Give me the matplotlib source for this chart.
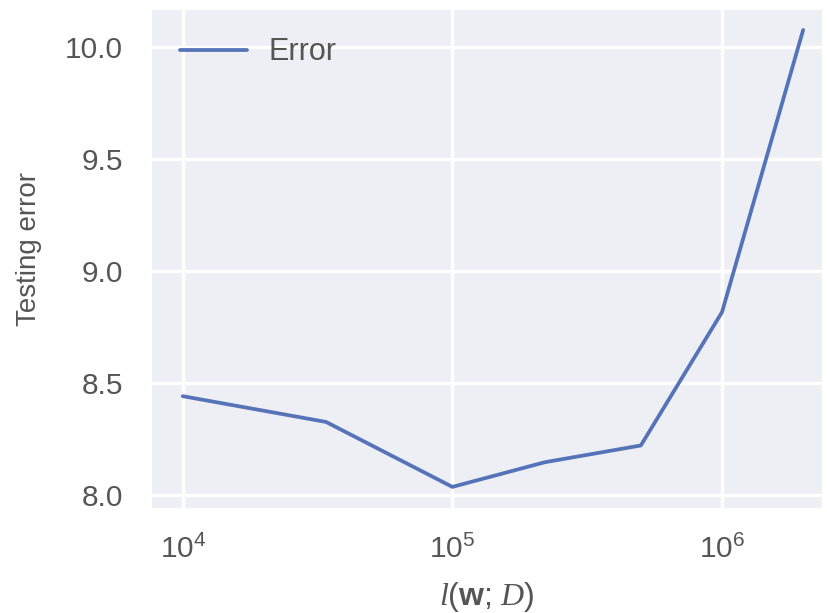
import matplotlib
matplotlib.use("Agg")
import matplotlib.pyplot as plt
import seaborn as sns

# data
info = [1e4, 3.4e4, 1e5, 2.2e5, 5e5, 1e6, 2e6]
test_err = [8.44, 8.325, 8.035, 8.145, 8.22, 8.815, 10.075]

sns.set_style("darkgrid", {"axes.facecolor": "#EEEEF5", "grid.color": "white"})
plt.rcParams['font.family'] = ['Liberation Sans', 'DejaVu Sans']
plt.rcParams['mathtext.fontset'] = 'custom'
plt.rcParams['mathtext.rm'] = 'Liberation Sans'
plt.rcParams['mathtext.it'] = 'Liberation Serif:italic'
plt.rcParams['mathtext.bf'] = 'Liberation Sans:bold'

fig = plt.figure(figsize=(8.27, 6.13), dpi=100)
ax = fig.add_axes([0.184, 0.171, 0.81, 0.813])

ax.plot(info, test_err, color='#5573B8', lw=2.7, label='Error')
ax.set_xscale('log')
ax.set_xlim(7.7e3, 2.35e6)
ax.set_ylim(7.94, 10.165)
ax.set_yticks([8.0, 8.5, 9.0, 9.5, 10.0])
ax.grid(True, which='major', color='white', lw=2.5)
ax.grid(False, which='minor')
ax.tick_params(axis='both', labelsize=21.5, colors='#555555', length=0)
ax.tick_params(axis='y', pad=21)
ax.tick_params(axis='x', pad=19)
for s in ax.spines.values():
    s.set_visible(False)

ax.set_ylabel('Testing error', fontsize=20, color='#555555')
ax.yaxis.set_label_coords(-0.164, 0.52)
ax.set_xlabel(r'$l(\mathbf{w};\,D)$', fontsize=23, color='#555555', labelpad=12)

leg = ax.legend(loc='upper left', frameon=False, fontsize=22, handlelength=2.2,
                handletextpad=0.7, borderaxespad=0.5)
for t in leg.get_texts():
    t.set_color('#555555')

fig.savefig('out.png', dpi=100)
